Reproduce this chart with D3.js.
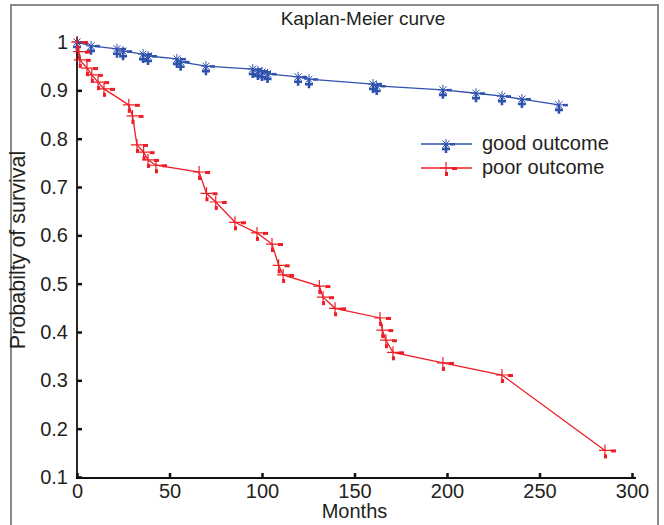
<!DOCTYPE html>
<html>
<head>
<meta charset="utf-8">
<script src="https://cdn.jsdelivr.net/npm/d3@7"></script>
<style>
  body { margin: 0; background: #fff; }
  svg { display: block; }
  text { font-family: "Liberation Sans", Arial, Helvetica, sans-serif; fill: #231f20; }
</style>
</head>
<body>
<div id="chart"></div>
<script>
// ---- data ----
const goodMonths = [0, 7.6, 21.6, 24.9, 35.7, 38.4, 54, 56, 69.7, 95, 97.8, 100, 103, 119.5, 125.4, 160, 162, 197.8, 215.7, 229.7, 240.5, 260.5];
const goodSurv   = [1.0, 0.992, 0.986, 0.981, 0.975, 0.971, 0.965, 0.959, 0.950, 0.944, 0.940, 0.938, 0.934, 0.928, 0.923, 0.913, 0.909, 0.901, 0.894, 0.888, 0.882, 0.870];

const poorMonths = [0, 1, 1.5, 5.4, 8, 11.4, 14.6, 28, 30, 32.4, 36, 38.4, 42.7, 66, 70, 75, 85.4, 97.3, 105.4, 109, 111.4, 131, 133, 139.5, 163.8, 165, 167, 170.8, 197.8, 229.7, 285.4];
const poorSurv   = [1.0, 0.98, 0.963, 0.946, 0.932, 0.917, 0.903, 0.870, 0.847, 0.787, 0.772, 0.756, 0.745, 0.731, 0.687, 0.669, 0.627, 0.605, 0.582, 0.538, 0.518, 0.495, 0.472, 0.449, 0.429, 0.404, 0.383, 0.358, 0.336, 0.311, 0.155];

const xTicks = [0, 50, 100, 150, 200, 250, 300];
const yTicks = [0.1, 0.2, 0.3, 0.4, 0.5, 0.6, 0.7, 0.8, 0.9, 1];
const seriesNames = ["good outcome", "poor outcome"];
const titleText = "Kaplan-Meier curve";
const xLabel = "Months";
const yLabel = "Probabilty of survival";

// ---- drawing ----
const W = 664, H = 525;
const BLUE = "#2f52ad", RED = "#ee1d25";
const svg = d3.select("#chart").append("svg").attr("width", W).attr("height", H);

// frame
svg.append("rect").attr("x", 11).attr("y", 5).attr("width", 647).attr("height", 560)
  .attr("fill", "none").attr("stroke", "#8a8a8a").attr("stroke-width", 2);

const x = d3.scaleLinear().domain([0, 300]).range([77, 632]);
const y = d3.scaleLinear().domain([0.1, 1]).range([477, 42]);

// axes
const xAxis = d3.axisBottom(x).tickValues(xTicks).tickSizeInner(-5).tickSizeOuter(0).tickPadding(6).tickFormat(d3.format("d"));
const yAxis = d3.axisLeft(y).tickValues(yTicks).tickSizeInner(-5).tickSizeOuter(0).tickPadding(9)
  .tickFormat(d => d === 1 ? "1" : d3.format(".1f")(d));

const gx = svg.append("g").attr("transform", `translate(0,${y(0.1) + 1})`).call(xAxis);
const gy = svg.append("g").attr("transform", `translate(${x(0)},0)`).call(yAxis);
[gx, gy].forEach(g => {
  g.select(".domain").remove();
  g.selectAll(".tick line").attr("stroke", "#111").attr("stroke-width", 2.5);
  g.selectAll(".tick text").style("font-size", "20px").style("fill", "#231f20");
});
svg.append("line").attr("x1", x(0)).attr("x2", x(0)).attr("y1", 37).attr("y2", y(0.1) + 2)
  .attr("stroke", "#111").attr("stroke-width", 1.8);
svg.append("line").attr("x1", x(0) - 1).attr("x2", 636).attr("y1", y(0.1) + 1).attr("y2", y(0.1) + 1)
  .attr("stroke", "#111").attr("stroke-width", 1.8);

// labels
svg.append("text").attr("x", 363).attr("y", 25).attr("text-anchor", "middle").style("font-size", "19px").text(titleText);
svg.append("text").attr("x", x(150)).attr("y", 518).attr("text-anchor", "middle").style("font-size", "20px").text(xLabel);
svg.append("text").attr("transform", "translate(25,250) rotate(-90)").attr("text-anchor", "middle").style("font-size", "21.5px").text(yLabel);

// markers
function blueMarker(g, cx, cy) {
  const r = 5;
  let p = "";
  [0, 45, 90, 135].forEach(a => {
    const dx = r * Math.cos(a * Math.PI / 180), dy = r * Math.sin(a * Math.PI / 180);
    p += `M${cx - dx},${cy - dy}L${cx + dx},${cy + dy}`;
  });
  g.append("path").attr("d", p).attr("stroke", BLUE).attr("stroke-width", 1).attr("fill", "none");
  g.append("path").attr("d", `M${cx - 4},${cy + 5}H${cx + 4}M${cx},${cy + 1}V${cy + 9}`)
    .attr("stroke", BLUE).attr("stroke-width", 2.6).attr("fill", "none");
  g.append("rect").attr("x", cx + 4).attr("y", cy - 1).attr("width", 5).attr("height", 2.5).attr("fill", BLUE);
}
function redMarker(g, cx, cy) {
  g.append("path").attr("d", `M${cx - 6},${cy}H${cx + 6}M${cx},${cy - 6}V${cy + 6}`)
    .attr("stroke", RED).attr("stroke-width", 1.2).attr("fill", "none");
  g.append("rect").attr("x", cx + 6).attr("y", cy - 1).attr("width", 5).attr("height", 3).attr("fill", RED);
  g.append("rect").attr("x", cx - 1).attr("y", cy + 4).attr("width", 3).attr("height", 4).attr("fill", RED);
}

const line = d3.line().x(d => x(d[0])).y(d => y(d[1]));
const goodData = goodMonths.map((m, i) => [m, goodSurv[i]]);
const poorData = poorMonths.map((m, i) => [m, poorSurv[i]]);

svg.append("path").datum(goodData).attr("d", line).attr("fill", "none").attr("stroke", BLUE).attr("stroke-width", 1.3);
svg.append("path").datum(poorData).attr("d", line).attr("fill", "none").attr("stroke", RED).attr("stroke-width", 1.3);
const gm = svg.append("g");
goodData.forEach(d => blueMarker(gm, x(d[0]), y(d[1])));
const rm = svg.append("g");
poorData.forEach(d => redMarker(rm, x(d[0]), y(d[1])));

// legend
const lg = svg.append("g");
lg.append("line").attr("x1", 421).attr("x2", 472).attr("y1", 144).attr("y2", 144).attr("stroke", BLUE).attr("stroke-width", 1.3);
blueMarker(lg, 446, 144);
lg.append("text").attr("x", 482).attr("y", 150).style("font-size", "20px").text(seriesNames[0]);
lg.append("line").attr("x1", 421).attr("x2", 472).attr("y1", 168).attr("y2", 168).attr("stroke", RED).attr("stroke-width", 1.3);
redMarker(lg, 446, 168);
lg.append("text").attr("x", 482).attr("y", 174).style("font-size", "20px").text(seriesNames[1]);
</script>
</body>
</html>
